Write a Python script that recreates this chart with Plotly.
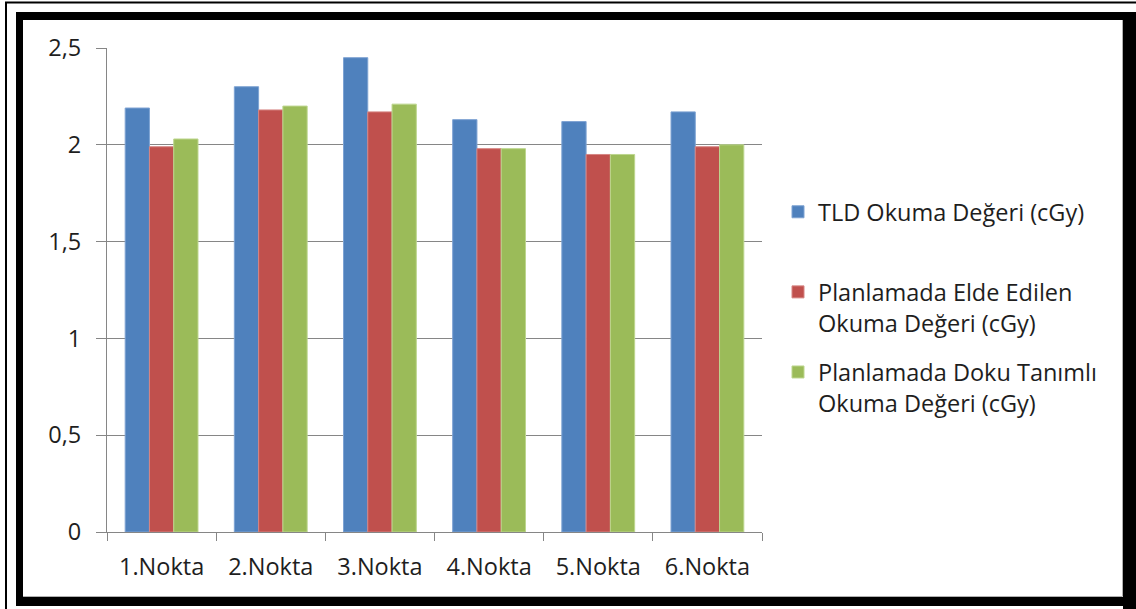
import plotly.graph_objects as go

categories = ["1.Nokta", "2.Nokta", "3.Nokta", "4.Nokta", "5.Nokta", "6.Nokta"]
tld_values = [2.19, 2.30, 2.45, 2.13, 2.12, 2.17]
plan_values = [1.99, 2.18, 2.17, 1.98, 1.95, 1.99]
doku_values = [2.03, 2.20, 2.21, 1.98, 1.95, 2.00]
series_names = [
    "TLD Okuma Değeri (cGy)<br> ",
    "Planlamada Elde Edilen<br>Okuma Değeri (cGy)",
    "Planlamada Doku Tanımlı<br>Okuma Değeri (cGy)",
]
series_colors = ["#4F81BD", "#C0504D", "#9BBB59"]
edge_colors = ["#7EA3D3", "#D68583", "#BDD68E"]

W, H = 1136, 609
L, R, T, B = 107, 762, 48, 532
FONT = "Open Sans"
FS = 23.5
TXT = "#1e1e1e"
GRID = "#868686"


def px(x):
    return (x - L) / (R - L)


def py(y):
    return (B - y) / (B - T)


fig = go.Figure()
for name, vals, col, ecol in zip(series_names, [tld_values, plan_values, doku_values], series_colors, edge_colors):
    fig.add_trace(go.Bar(
        x=categories, y=vals, name=name, legendgroup=name,
        marker=dict(color=col, line=dict(color=ecol, width=1)),
    ))

shapes = []
# outer thin line
shapes.append(dict(type="rect", xref="paper", yref="paper",
                   x0=px(6), x1=px(1160), y0=py(2.5), y1=py(640),
                   line=dict(color="black", width=2), fillcolor="rgba(0,0,0,0)"))
# thick frame pieces
for (x0, y0, x1, y1) in [(16, 12, 23, 606), (16, 12, 1136, 20), (1123, 12, 1136, 609), (16, 597, 1136, 606)]:
    shapes.append(dict(type="rect", xref="paper", yref="paper",
                       x0=px(x0), x1=px(x1), y0=py(y0), y1=py(y1),
                       line=dict(width=0), fillcolor="black"))
# inner light edge
shapes.append(dict(type="line", xref="paper", yref="paper",
                   x0=px(1122.5), x1=px(1122.5), y0=py(20), y1=py(596.5),
                   line=dict(color="#b0b0b0", width=1)))
shapes.append(dict(type="line", xref="paper", yref="paper",
                   x0=px(23), x1=px(1122.5), y0=py(596.5), y1=py(596.5),
                   line=dict(color="#b0b0b0", width=1)))

fig.update_layout(
    width=W, height=H,
    margin=dict(l=L, r=W - R, t=T, b=H - B, pad=0),
    paper_bgcolor="white", plot_bgcolor="white",
    separators=", ",
    barmode="group", bargap=0.333, bargroupgap=0,
    font=dict(family=FONT, size=FS, color=TXT),
    shapes=shapes,
    legend=dict(
        x=px(778), xanchor="left", y=py(190), yanchor="top",
        font=dict(family=FONT, size=FS, color=TXT),
        traceorder="grouped", tracegroupgap=16, valign="top",
        bgcolor="rgba(0,0,0,0)",
    ),
    xaxis=dict(
        showline=True, linecolor=GRID, linewidth=1,
        ticks="outside", tickson="boundaries", ticklen=8, tickcolor=GRID,
        showgrid=False, tickfont=dict(size=FS, color=TXT), ticklabelstandoff=14,
    ),
    yaxis=dict(
        range=[0, 2.5], dtick=0.5, tick0=0,
        showline=True, linecolor=GRID, linewidth=1,
        ticks="outside", ticklen=10, tickcolor=GRID,
        showgrid=True, gridcolor=GRID, gridwidth=1, zeroline=False,
        tickfont=dict(size=FS, color=TXT), ticklabelstandoff=10,
    ),
)

fig.write_html("out.html")
